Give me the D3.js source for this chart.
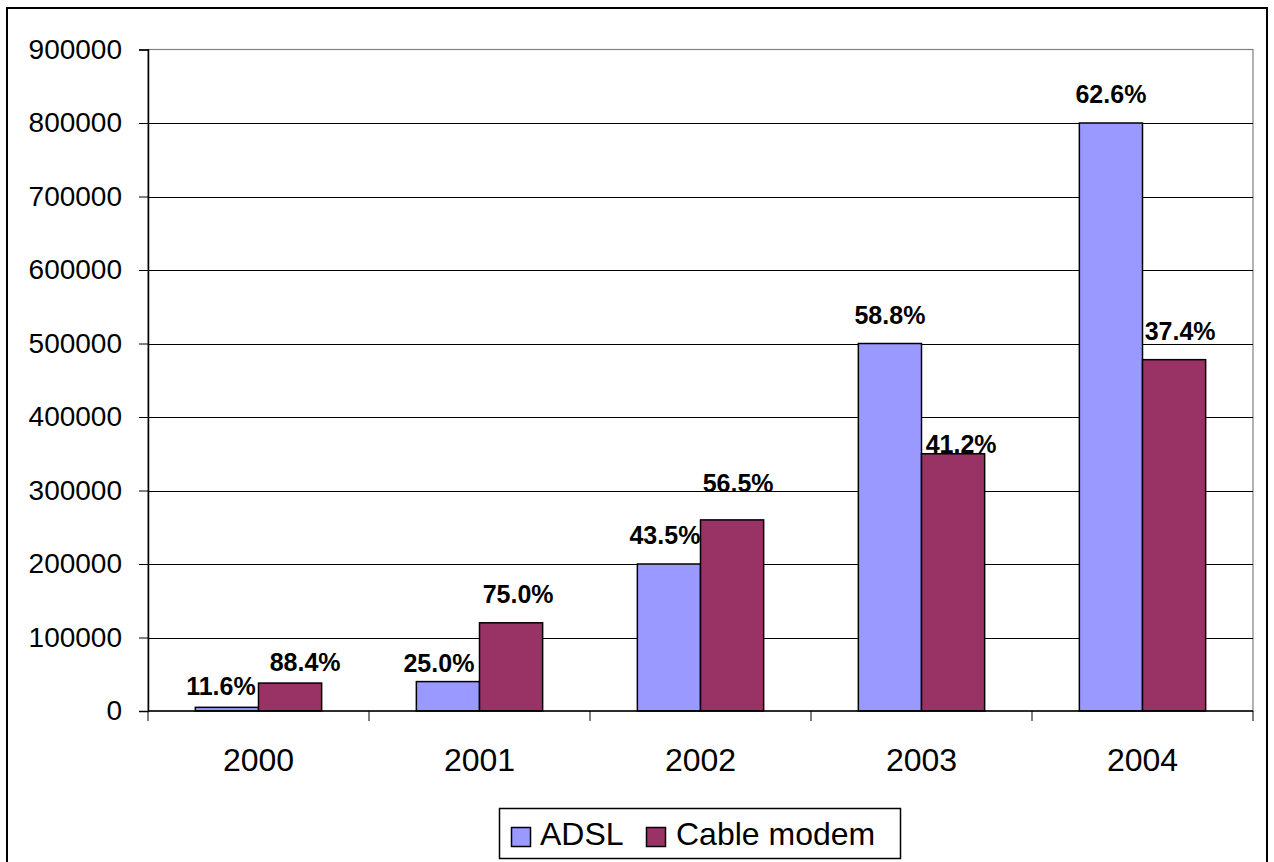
<!DOCTYPE html>
<html>
<head>
<meta charset="utf-8">
<script src="https://cdn.jsdelivr.net/npm/d3@7"></script>
<style>
  html, body { margin: 0; padding: 0; background: #fff; }
  svg { display: block; font-family: "Liberation Sans", Arial, sans-serif; }
</style>
</head>
<body>
<svg id="chart" width="1274" height="862"></svg>
<script>
// Broadband subscribers by access technology
const years = ["2000", "2001", "2002", "2003", "2004"];
const adsl = [5000, 40000, 200000, 500000, 800000];
const cableModem = [38000, 120000, 260000, 350000, 478000];
const seriesNames = ["ADSL", "Cable modem"];
const yTicks = [0, 100000, 200000, 300000, 400000, 500000, 600000, 700000, 800000, 900000];

// hand-placed label nudges (dx, dy) per series and year
const labelNudgeAdsl = [[-6, 8], [-9, 10], [-4, 0], [0, 0], [0, 0]];
const labelNudgeCable = [[15, 8], [7, 0], [6, -8], [8, 19], [6, 0]];

const colors = ["#9999FF", "#993366"];

const svg = d3.select("#chart");
const plot = { left: 148, right: 1253, top: 49.5, bottom: 711 };

// outer chart frame
svg.append("rect")
  .attr("x", 7).attr("y", 8).attr("width", 1260).attr("height", 880)
  .attr("fill", "#fff").attr("stroke", "#000").attr("stroke-width", 2);

const x = d3.scaleBand().domain(years).range([plot.left, plot.right]).paddingInner(0).paddingOuter(0);
const y = d3.scaleLinear().domain([0, 900000]).range([plot.bottom, plot.top]);

// plot area border
svg.append("rect")
  .attr("x", plot.left).attr("y", plot.top)
  .attr("width", plot.right - plot.left).attr("height", plot.bottom - plot.top)
  .attr("fill", "none").attr("stroke", "#808080").attr("stroke-width", 1.2);

// gridlines
svg.append("g").selectAll("line")
  .data(yTicks.filter(t => t > 0 && t < 900000))
  .join("line")
  .attr("x1", plot.left).attr("x2", plot.right)
  .attr("y1", d => Math.round(y(d)) + 0.5).attr("y2", d => Math.round(y(d)) + 0.5)
  .attr("stroke", "#000").attr("stroke-width", 1);

// bars: gap width of 150% between clusters
const groupWidth = x.bandwidth() * 2 / 3.5;
const barW = groupWidth / 2;
const rows = years.map((yr, i) => {
  const total = adsl[i] + cableModem[i];
  return { yr, vals: [adsl[i], cableModem[i]], total, i };
});

const barG = svg.append("g");
rows.forEach(r => {
  const x0 = x(r.yr) + (x.bandwidth() - groupWidth) / 2;
  r.vals.forEach((v, s) => {
    barG.append("rect")
      .attr("x", x0 + s * barW)
      .attr("y", y(v))
      .attr("width", barW)
      .attr("height", y(0) - y(v))
      .attr("fill", colors[s])
      .attr("stroke", "#000")
      .attr("stroke-width", 1.5);
  });
});

// share-of-total labels
const labelG = svg.append("g");
rows.forEach(r => {
  const x0 = x(r.yr) + (x.bandwidth() - groupWidth) / 2;
  r.vals.forEach((v, s) => {
    const nudge = (s === 0 ? labelNudgeAdsl : labelNudgeCable)[r.i];
    labelG.append("text")
      .attr("x", x0 + s * barW + barW / 2 + nudge[0])
      .attr("y", y(v) - 20 + nudge[1])
      .attr("text-anchor", "middle")
      .attr("font-size", 25)
      .attr("font-weight", "bold")
      .attr("fill", "#000")
      .text(d3.format(".1f")(v / r.total * 100) + "%");
  });
});

// y axis
const yAxis = d3.axisLeft(y).tickValues(yTicks).tickSize(9).tickPadding(17).tickFormat(d3.format("d"));
const yg = svg.append("g").attr("transform", `translate(${plot.left},0)`).call(yAxis);
yg.select(".domain").attr("stroke", "#000").attr("stroke-width", 1.5);
yg.selectAll(".tick line").attr("stroke", "#000");
yg.selectAll(".tick text").attr("font-size", 28).attr("font-family", "Liberation Sans, Arial, sans-serif").attr("fill", "#000");

// x axis with ticks at the category boundaries
const xAxisLine = svg.append("g");
xAxisLine.append("line")
  .attr("x1", plot.left).attr("x2", plot.right)
  .attr("y1", plot.bottom).attr("y2", plot.bottom)
  .attr("stroke", "#000").attr("stroke-width", 1.5);
const boundaries = years.map(yr => x(yr)).concat([plot.right]);
xAxisLine.selectAll("line.tk").data(boundaries).join("line")
  .attr("class", "tk")
  .attr("x1", d => d).attr("x2", d => d)
  .attr("y1", plot.bottom).attr("y2", plot.bottom + 10)
  .attr("stroke", "#000").attr("stroke-width", 1);
xAxisLine.selectAll("text").data(years).join("text")
  .attr("x", d => x(d) + x.bandwidth() / 2)
  .attr("y", 771)
  .attr("text-anchor", "middle")
  .attr("font-size", 32)
  .attr("fill", "#000")
  .text(d => d);

// legend
const legend = svg.append("g");
legend.append("rect")
  .attr("x", 499.5).attr("y", 808.5).attr("width", 401).attr("height", 50)
  .attr("fill", "#fff").attr("stroke", "#000").attr("stroke-width", 1.5);
const legendItems = [
  { name: seriesNames[0], sx: 511, tx: 540 },
  { name: seriesNames[1], sx: 646, tx: 676 }
];
legendItems.forEach((it, i) => {
  legend.append("rect")
    .attr("x", it.sx + 0.5).attr("y", 827.5).attr("width", 19).attr("height", 19)
    .attr("fill", colors[i]).attr("stroke", "#000").attr("stroke-width", 1.5);
  legend.append("text")
    .attr("x", it.tx).attr("y", 845)
    .attr("font-size", 32).attr("fill", "#000")
    .text(it.name);
});
</script>
</body>
</html>
